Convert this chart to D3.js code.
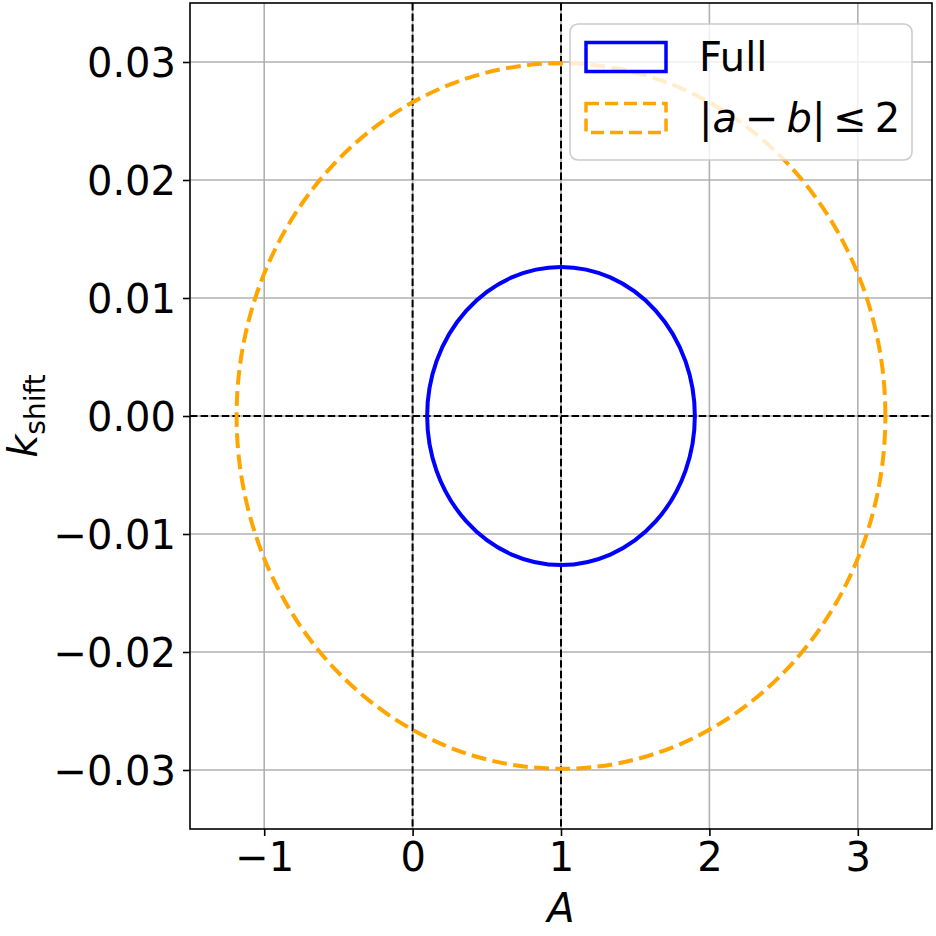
<!DOCTYPE html>
<html>
<head>
<meta charset="utf-8">
<script src="https://cdn.jsdelivr.net/npm/d3@7"></script>
<style>
  html, body { margin: 0; padding: 0; background: #fff; }
  svg { display: block; font-family: "DejaVu Sans", sans-serif; }
</style>
</head>
<body>
<svg id="chart" width="936" height="936"></svg>
<script>
// ---- data ----
const xDomain = [-1.5, 3.5];
const yDomain = [-0.035, 0.035];
const xTicks = [-1, 0, 1, 2, 3];
const yTicks = [-0.03, -0.02, -0.01, 0.00, 0.01, 0.02, 0.03];
const seriesNames = ["Full", "|a − b| ≤ 2"];
const centersA = [1.0, 1.0];
const centersK = [0.0, 0.0];
const semiA = [0.902, 2.186];
const semiK = [0.01263, 0.0299];
const refX = [0, 1];
const refY = [0];

const colors = ["#0000ff", "#ffa500"];
const dashes = [null, "14.8,6.4"];

const W = 936, H = 936;
const m = { left: 190, right: 4, top: 3, bottom: 107 };
const svg = d3.select("#chart");
const x = d3.scaleLinear().domain(xDomain).range([m.left, W - m.right]);
const y = d3.scaleLinear().domain(yDomain).range([H - m.bottom, m.top]);

const FS = 40;

// grid
const g = svg.append("g");
g.selectAll(".gx").data(xTicks).enter().append("line")
  .attr("x1", d => x(d)).attr("x2", d => x(d))
  .attr("y1", y.range()[1]).attr("y2", y.range()[0])
  .attr("stroke", "#b0b0b0").attr("stroke-width", 1.6);
g.selectAll(".gy").data(yTicks).enter().append("line")
  .attr("y1", d => y(d)).attr("y2", d => y(d))
  .attr("x1", x.range()[0]).attr("x2", x.range()[1])
  .attr("stroke", "#b0b0b0").attr("stroke-width", 1.6);

// reference dashed lines
g.selectAll(".rx").data(refX).enter().append("line")
  .attr("x1", d => x(d)).attr("x2", d => x(d))
  .attr("y1", y.range()[1]).attr("y2", y.range()[0])
  .attr("stroke", "#000").attr("stroke-width", 2).attr("stroke-dasharray", "7.4,3.2");
g.selectAll(".ry").data(refY).enter().append("line")
  .attr("y1", d => y(d)).attr("y2", d => y(d))
  .attr("x1", x.range()[0]).attr("x2", x.range()[1])
  .attr("stroke", "#000").attr("stroke-width", 2).attr("stroke-dasharray", "7.4,3.2");

// ellipses (start at rightmost point, go counter-clockwise like matplotlib)
seriesNames.forEach((name, i) => {
  const cx = x(centersA[i]), cy = y(centersK[i]);
  const rx = x(centersA[i] + semiA[i]) - cx;
  const ry = cy - y(centersK[i] + semiK[i]);
  const pathStr = `M${cx + rx},${cy} A${rx},${ry} 0 0 0 ${cx - rx},${cy} A${rx},${ry} 0 0 0 ${cx + rx},${cy} Z`;
  svg.append("path").attr("d", pathStr)
    .attr("fill", "none").attr("stroke", colors[i]).attr("stroke-width", 4)
    .attr("stroke-dasharray", dashes[i]);
});

// axes
const xAxis = d3.axisBottom(x).tickValues(xTicks)
  .tickFormat(d => (d < 0 ? "\u2212" : "") + Math.abs(d))
  .tickSize(7).tickPadding(7);
const yAxis = d3.axisLeft(y).tickValues(yTicks)
  .tickFormat(d => (d < 0 ? "\u2212" : "") + Math.abs(d).toFixed(2))
  .tickSize(7).tickPadding(7);

const gx = svg.append("g").attr("transform", `translate(0,${H - m.bottom})`).call(xAxis);
const gy = svg.append("g").attr("transform", `translate(${m.left},0)`).call(yAxis);
[gx, gy].forEach(a => {
  a.select(".domain").remove();
  a.selectAll(".tick line").attr("stroke", "#000").attr("stroke-width", 1.6);
  a.selectAll(".tick text").attr("fill", "#000").attr("font-size", FS)
    .attr("font-family", "DejaVu Sans");
});
gx.selectAll(".tick text").attr("dy", "0.71em");
gy.selectAll(".tick text").attr("dy", "0.36em");

// frame
svg.append("rect")
  .attr("x", x.range()[0]).attr("y", y.range()[1])
  .attr("width", x.range()[1] - x.range()[0])
  .attr("height", y.range()[0] - y.range()[1])
  .attr("fill", "none").attr("stroke", "#000").attr("stroke-width", 1.6);

// axis labels
svg.append("text").attr("x", (x.range()[0] + x.range()[1]) / 2).attr("y", 922)
  .attr("text-anchor", "middle").attr("font-size", FS).attr("font-style", "italic")
  .text("A");

const yl = svg.append("text")
  .attr("transform", `translate(37,${(y.range()[0] + y.range()[1]) / 2}) rotate(-90)`)
  .attr("text-anchor", "middle").attr("font-size", FS);
yl.append("tspan").attr("font-style", "italic").text("k");
yl.append("tspan").attr("font-size", FS * 0.7).attr("dy", 8).text("shift");

// legend
const lg = svg.append("g");
lg.append("rect").attr("x", 570).attr("y", 24).attr("width", 342).attr("height", 136)
  .attr("rx", 8).attr("fill", "#fff").attr("fill-opacity", 0.8)
  .attr("stroke", "#cccccc").attr("stroke-width", 1.6);
const rowsY = [57, 118];
seriesNames.forEach((name, i) => {
  lg.append("rect").attr("x", 586).attr("y", rowsY[i] - 14.5).attr("width", 80).attr("height", 29)
    .attr("fill", "none").attr("stroke", colors[i]).attr("stroke-width", 3.5)
    .attr("stroke-dasharray", i === 1 ? "13,6" : null);
  const t = lg.append("text").attr("x", 699).attr("y", rowsY[i]).attr("dy", "0.36em")
    .attr("font-size", FS);
  if (i === 0) {
    t.text(name);
  } else {
    t.append("tspan").text("|");
    t.append("tspan").attr("font-style", "italic").text("a");
    t.append("tspan").text("\u2009\u2212\u2009");
    t.append("tspan").attr("font-style", "italic").text("b");
    t.append("tspan").text("|\u2009\u2264\u20092");
  }
});
</script>
</body>
</html>
